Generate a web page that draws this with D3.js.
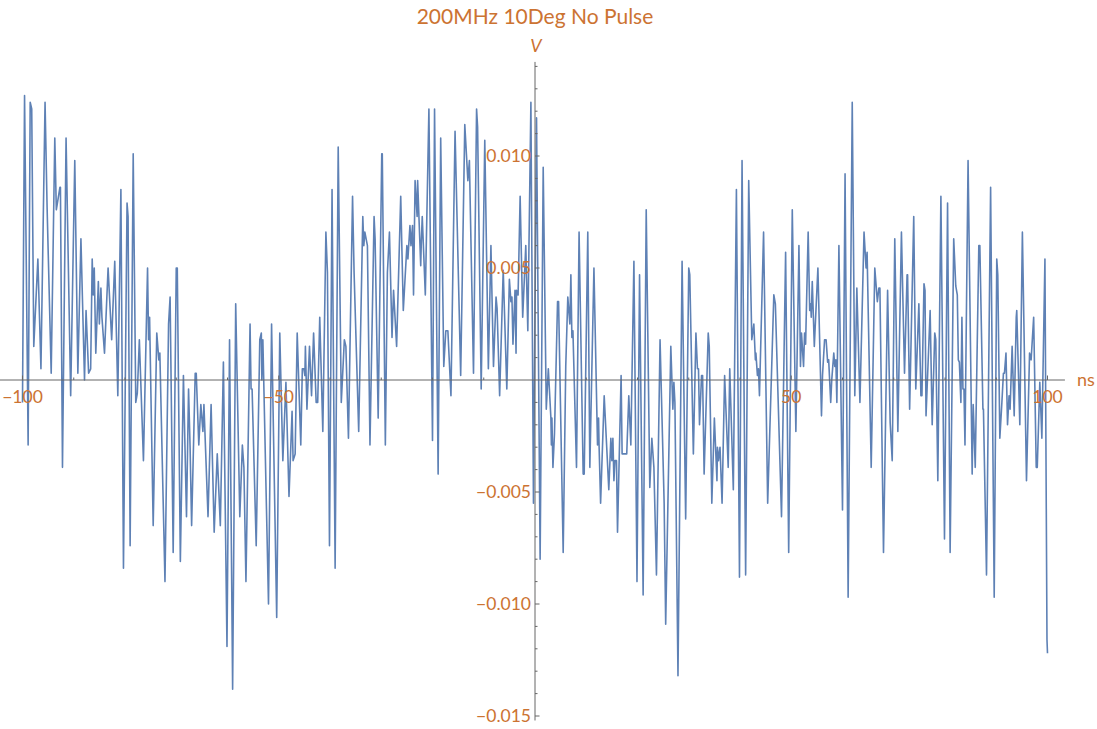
<!DOCTYPE html>
<html>
<head>
<meta charset="utf-8">
<script src="https://cdn.jsdelivr.net/npm/d3@7"></script>
<style>
  html, body { margin: 0; padding: 0; background: #ffffff; }
  svg { display: block; font-family: "Lato", "Open Sans", sans-serif; }
</style>
</head>
<body>
<svg id="chart" width="1097" height="729"></svg>
<script>
// ---------------- data ----------------
const chartTitle = "200MHz 10Deg No Pulse";
const xAxisLabel = "ns";
const yAxisLabel = "V";
const xMajorTicks = [-100, -50, 50, 100];
const xTickLabels = ["\u2212100", "\u221250", "50", "100"];
const yMajorTicks = [-0.015, -0.010, -0.005, 0.005, 0.010];
const yTickLabels = ["\u22120.015", "\u22120.010", "\u22120.005", "0.005", "0.010"];

const timeNs = [
-100.0,-99.6,-98.9,-98.5,-98.2,-97.8,-97.0,-96.4,-95.6,-95.2,
-94.4,-93.7,-93.4,-92.7,-92.6,-92.2,-91.5,-90.6,-89.8,-89.2,
-88.6,-87.9,-87.6,-87.1,-86.7,-86.4,-86.2,-86.0,-85.7,-85.2,
-85.0,-84.7,-84.5,-84.0,-83.3,-82.6,-82.0,-81.4,-80.8,-80.3,
-79.6,-79.4,-79.0,-78.4,-77.9,-77.6,-77.2,-76.4,-75.6,-75.4,
-75.2,-74.5,-73.8,-73.4,-73.2,-72.2,-71.5,-71.2,-70.6,-70.0,
-69.8,-69.2,-68.6,-68.0,-67.6,-67.3,-67.0,-66.3,-66.1,-65.6,
-65.2,-64.8,-64.6,-63.8,-63.2,-62.6,-62.0,-61.4,-60.8,-60.1,
-59.6,-59.0,-58.4,-57.6,-57.1,-56.8,-56.4,-55.6,-55.4,-55.2,
-54.4,-53.7,-53.4,-53.3,-53.1,-52.0,-51.4,-50.4,-49.8,-49.2,
-48.6,-48.0,-47.4,-47.2,-46.8,-46.4,-45.7,-45.4,-45.1,-44.9,
-44.8,-44.5,-44.0,-43.6,-43.2,-42.7,-42.4,-42.0,-41.4,-40.8,
-40.5,-40.1,-39.6,-39.0,-38.4,-37.8,-37.2,-36.9,-36.4,-35.6,
-35.3,-34.4,-33.6,-33.4,-33.2,-32.7,-32.2,-31.4,-31.2,-30.6,
-29.9,-29.8,-29.2,-28.8,-28.4,-27.9,-27.6,-27.0,-26.2,-25.7,
-25.0,-24.8,-24.4,-24.2,-23.9,-23.7,-23.4,-23.0,-22.9,-22.3,
-22.2,-22.0,-21.4,-20.7,-20.0,-19.6,-18.9,-18.4,-17.8,-17.4,
-17.0,-16.4,-15.6,-14.5,-13.7,-13.1,-12.8,-12.0,-11.4,-11.2,
-10.5,-9.8,-9.1,-8.6,-8.1,-7.6,-7.4,-6.9,-6.2,-5.5,
-5.0,-4.7,-4.5,-4.3,-3.9,-3.7,-3.6,-3.3,-2.9,-2.4,
-1.8,-1.4,-0.8,-0.3,0.3,1.0,1.6,2.2,2.6,3.1,
3.2,3.3,3.5,3.8,4.4,4.6,5.5,6.0,6.4,6.8,
7.0,7.2,7.4,8.1,8.6,9.4,9.6,10.3,10.7,11.5,
12.2,12.4,12.5,12.8,13.5,14.4,14.8,15.0,15.2,15.4,
15.6,15.9,16.1,16.8,17.0,17.9,18.3,18.7,19.3,19.9,
20.4,21.1,21.7,22.4,22.8,23.2,23.7,24.4,25.2,25.5,
26.5,26.9,27.1,27.3,27.9,28.7,29.4,30.0,30.2,30.9,
31.4,31.7,31.9,32.1,32.5,32.7,33.0,33.8,34.0,34.5,
35.0,35.5,35.6,35.8,36.1,36.5,37.0,37.7,38.0,38.7,
39.3,39.9,40.4,41.1,41.7,42.3,42.7,43.0,43.1,43.4,
43.6,43.8,44.6,45.4,46.6,46.9,48.1,48.9,49.5,50.2,
50.9,51.5,51.8,52.0,52.4,52.6,52.8,53.3,53.6,53.8,
53.9,54.1,54.5,55.2,55.9,56.1,56.5,56.8,57.1,57.3,
57.7,57.9,58.3,58.5,58.7,58.9,59.3,60.0,60.5,61.1,
61.9,62.4,62.8,63.4,64.2,64.6,64.8,65.6,66.3,66.8,
67.1,67.3,68.0,68.8,69.3,69.7,70.2,70.8,71.5,72.1,
72.6,72.7,73.1,73.9,74.3,74.9,75.3,75.5,75.9,76.1,
76.3,77.1,77.5,78.0,78.2,78.6,79.2,79.9,80.5,81.0,
81.7,82.1,82.4,82.6,82.8,83.1,83.3,83.5,83.7,83.9,
84.5,85.3,85.5,85.9,86.6,86.8,87.4,87.5,88.1,88.9,
89.6,90.1,90.3,90.7,91.1,91.4,91.6,91.9,92.2,92.5,
92.7,93.1,93.5,93.9,94.0,94.6,95.1,95.9,96.5,96.8,
97.3,97.8,98.0,98.5,98.9,99.5,99.9,100.0
];

const voltage = [
-0.0010,0.0127,-0.0029,0.0124,0.0121,0.0015,0.0054,0.0005,0.0124,0.0077,
0.0003,0.0108,0.0076,0.0086,0.0086,-0.0039,0.0108,-0.0007,0.0098,0.0003,
0.0063,0.0000,0.0031,0.0003,0.0005,0.0054,0.0038,0.0050,0.0012,0.0044,
0.0025,0.0041,0.0028,0.0012,0.0050,0.0018,0.0053,-0.0007,0.0085,-0.0084,
0.0079,0.0073,-0.0074,0.0101,-0.0010,-0.0006,0.0018,-0.0036,0.0050,0.0018,
0.0028,-0.0065,0.0021,0.0009,0.0012,-0.0090,0.0025,0.0037,-0.0077,0.0050,
0.0050,-0.0081,0.0002,-0.0061,-0.0004,-0.0030,-0.0065,0.0003,0.0003,-0.0029,
-0.0011,-0.0023,-0.0011,-0.0061,-0.0011,-0.0068,-0.0033,-0.0065,0.0008,-0.0119,
0.0018,-0.0138,0.0034,-0.0061,-0.0029,-0.0039,-0.0090,0.0025,-0.0004,-0.0004,
-0.0074,0.0018,0.0021,0.0000,0.0018,-0.0100,0.0025,-0.0106,0.0021,-0.0036,
-0.0001,-0.0052,-0.0014,-0.0036,-0.0033,0.0021,-0.0029,0.0005,0.0005,0.0002,
0.0015,-0.0013,0.0015,-0.0007,0.0021,-0.0010,-0.0010,0.0028,-0.0023,0.0066,
0.0048,-0.0074,0.0085,-0.0084,0.0104,-0.0010,0.0018,0.0015,-0.0026,0.0082,
0.0048,-0.0023,0.0073,0.0060,0.0066,0.0060,-0.0029,0.0073,0.0063,-0.0017,
0.0101,0.0101,-0.0029,0.0048,0.0066,0.0019,0.0040,0.0015,0.0082,0.0031,
0.0060,0.0054,0.0069,0.0060,0.0069,0.0038,0.0089,0.0073,0.0089,0.0051,
0.0060,0.0073,0.0038,0.0121,-0.0027,0.0121,-0.0042,0.0108,0.0006,0.0022,
0.0022,-0.0007,0.0111,0.0002,0.0114,0.0089,0.0098,0.0003,0.0121,0.0113,
-0.0004,0.0107,0.0005,0.0060,0.0006,0.0037,0.0032,-0.0007,0.0049,-0.0004,
0.0045,0.0035,0.0037,0.0016,0.0040,0.0012,0.0040,0.0038,0.0082,0.0028,
0.0060,0.0022,0.0124,-0.0055,0.0117,-0.0080,0.0095,-0.0013,0.0005,-0.0017,
-0.0029,-0.0017,-0.0039,-0.0024,0.0035,0.0035,-0.0077,0.0006,0.0037,0.0025,
0.0047,0.0019,0.0022,-0.0039,0.0066,-0.0042,-0.0042,0.0066,-0.0039,0.0050,
-0.0029,-0.0017,-0.0029,-0.0055,-0.0007,-0.0049,-0.0026,-0.0036,-0.0026,-0.0045,
-0.0036,-0.0036,-0.0068,0.0002,-0.0033,-0.0033,-0.0007,-0.0029,0.0053,-0.0090,
0.0047,-0.0096,0.0076,-0.0048,-0.0026,-0.0039,-0.0087,0.0018,-0.0055,-0.0109,
0.0015,-0.0013,-0.0001,-0.0010,-0.0132,0.0053,-0.0062,0.0050,0.0047,-0.0033,
0.0021,0.0005,0.0005,-0.0020,0.0002,0.0002,-0.0042,0.0021,0.0015,-0.0055,
-0.0017,-0.0045,-0.0030,-0.0036,-0.0030,-0.0055,0.0002,-0.0039,0.0005,-0.0049,
0.0085,-0.0088,0.0098,-0.0087,0.0089,0.0018,0.0025,0.0009,0.0012,0.0002,
0.0005,-0.0007,0.0066,-0.0055,0.0038,0.0034,-0.0061,0.0057,-0.0077,0.0076,
-0.0023,0.0060,0.0006,0.0021,0.0006,0.0021,0.0016,0.0066,0.0031,0.0034,
0.0028,0.0044,0.0015,0.0050,-0.0016,0.0002,0.0018,0.0018,0.0008,0.0009,
-0.0010,0.0000,0.0012,0.0006,0.0009,-0.0010,0.0060,-0.0058,0.0092,-0.0097,
0.0124,-0.0007,0.0041,-0.0010,0.0066,0.0050,0.0057,-0.0039,0.0050,0.0035,
0.0041,0.0041,-0.0077,0.0040,-0.0019,-0.0036,0.0063,-0.0023,0.0066,0.0003,
0.0047,0.0047,-0.0013,0.0073,-0.0004,0.0034,-0.0007,-0.0007,0.0043,0.0040,
-0.0016,0.0031,-0.0020,0.0021,0.0018,-0.0045,0.0082,-0.0071,0.0079,-0.0077,
0.0063,0.0042,0.0038,0.0009,0.0008,-0.0010,0.0028,-0.0004,-0.0004,-0.0029,
0.0098,-0.0042,-0.0011,-0.0039,0.0060,0.0060,-0.0013,-0.0013,-0.0087,0.0086,
-0.0097,0.0054,0.0047,-0.0026,-0.0010,0.0003,0.0003,0.0012,-0.0020,-0.0007,
-0.0013,0.0015,-0.0016,0.0028,0.0031,-0.0020,0.0066,-0.0045,0.0012,0.0009,
0.0028,-0.0039,-0.0039,-0.0001,-0.0026,0.0054,-0.0116,-0.0122
];

// ---------------- layout ----------------
const labelColor = "#cc7332";
const axisColor = "#666666";
const lineColor = "#5e81b5";

const svg = d3.select("#chart");

const x = d3.scaleLinear().domain([-100, 100]).range([22.5, 1047.5]);
const y = d3.scaleLinear().domain([-0.015, 0.010]).range([716, 156]);

const xExtent = [-104.4, 103.4];
const yExtent = [-0.0152, 0.0142];

// series
const series = d3.zip(timeNs, voltage);
const line = d3.line().x(d => x(d[0])).y(d => y(d[1]));
svg.append("path")
  .datum(series)
  .attr("fill", "none")
  .attr("stroke", lineColor)
  .attr("stroke-width", 1.6)
  .attr("stroke-linejoin", "round")
  .attr("d", line);

// x axis
const gx = svg.append("g").attr("transform", `translate(0,${y(0)})`);
gx.append("line")
  .attr("x1", x(xExtent[0])).attr("x2", x(xExtent[1]))
  .attr("stroke", axisColor).attr("stroke-width", 1);
const xMinor = d3.range(-100, 101, 10).filter(v => v !== 0 && !xMajorTicks.includes(v));
gx.selectAll(".xminor").data(xMinor).join("line")
  .attr("x1", d => x(d)).attr("x2", d => x(d))
  .attr("y1", 0).attr("y2", -2.5)
  .attr("stroke", axisColor).attr("stroke-width", 1);
gx.selectAll(".xmajor").data(xMajorTicks).join("line")
  .attr("x1", d => x(d)).attr("x2", d => x(d))
  .attr("y1", 0).attr("y2", -4.5)
  .attr("stroke", axisColor).attr("stroke-width", 1);
gx.selectAll(".xlabel").data(xMajorTicks).join("text")
  .attr("x", d => x(d)).attr("y", 23)
  .attr("text-anchor", "middle")
  .attr("fill", labelColor)
  .attr("font-size", 17.5)
  .text((d, i) => xTickLabels[i]);

// y axis
const gy = svg.append("g").attr("transform", `translate(${x(0)},0)`);
gy.append("line")
  .attr("y1", y(yExtent[0])).attr("y2", y(yExtent[1]))
  .attr("stroke", axisColor).attr("stroke-width", 1);
const yMinor = d3.range(-15, 15).map(k => k / 1000)
  .filter(v => Math.abs(v) > 1e-9 && !yMajorTicks.some(m => Math.abs(m - v) < 1e-9));
gy.selectAll(".yminor").data(yMinor).join("line")
  .attr("y1", d => y(d)).attr("y2", d => y(d))
  .attr("x1", 0).attr("x2", 2.5)
  .attr("stroke", axisColor).attr("stroke-width", 1);
gy.selectAll(".ymajor").data(yMajorTicks).join("line")
  .attr("y1", d => y(d)).attr("y2", d => y(d))
  .attr("x1", 0).attr("x2", 4.5)
  .attr("stroke", axisColor).attr("stroke-width", 1);
gy.selectAll(".ylabel").data(yMajorTicks).join("text")
  .attr("x", -4).attr("y", d => y(d))
  .attr("dy", "0.35em")
  .attr("text-anchor", "end")
  .attr("fill", labelColor)
  .attr("font-size", 17.5)
  .text((d, i) => yTickLabels[i]);

// axis labels
svg.append("text")
  .attr("x", x(xExtent[1]) + 12).attr("y", y(0))
  .attr("dy", "0.35em")
  .attr("fill", labelColor).attr("font-size", 18)
  .text(xAxisLabel);
svg.append("text")
  .attr("x", x(0) + 1).attr("y", y(yExtent[1]) - 10)
  .attr("text-anchor", "middle")
  .attr("font-style", "italic")
  .attr("fill", labelColor).attr("font-size", 18)
  .text(yAxisLabel);

// title
svg.append("text")
  .attr("x", x(0)).attr("y", 24)
  .attr("text-anchor", "middle")
  .attr("fill", labelColor).attr("font-size", 21)
  .text(chartTitle);
</script>
</body>
</html>
